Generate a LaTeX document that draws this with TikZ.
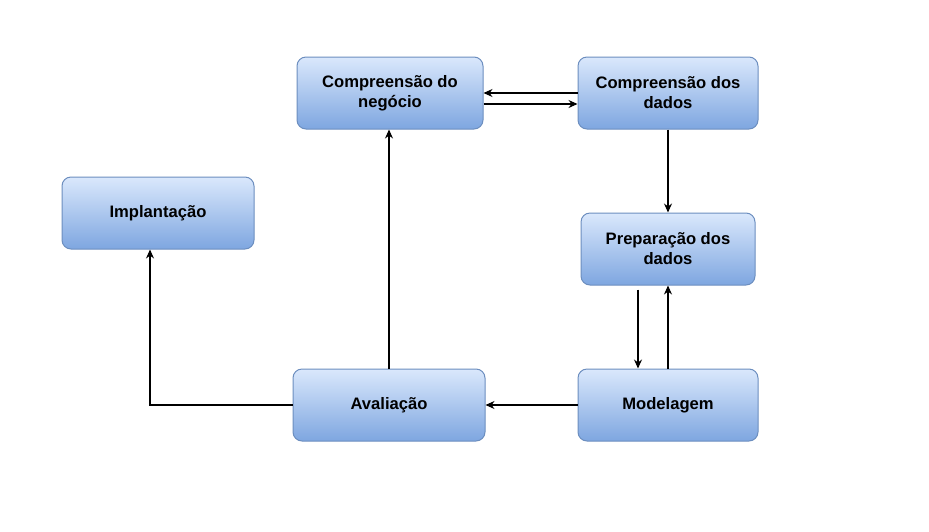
\documentclass[tikz,border=0pt]{standalone}
\usepackage{fontspec}
\setmainfont{Liberation Sans}
\usetikzlibrary{arrows.meta}
\definecolor{fillTop}{HTML}{DAE8FC}
\definecolor{fillBot}{HTML}{7EA6E0}
\definecolor{strokeC}{HTML}{6C8EBF}
\begin{document}
\begin{tikzpicture}[x=1pt,y=-1pt,
  box/.style={draw=strokeC, line width=1pt, rounded corners=9pt, top color=fillTop, bottom color=fillBot,
    minimum height=72pt, align=center, font=\fontsize{16.6}{20}\selectfont\bfseries, inner sep=2pt},
  arr/.style={-{Stealth[length=9pt,width=8pt]}, line width=1.1pt, black}]
\useasboundingbox (0,0) rectangle (929,531);
\node[box, minimum width=186pt] (neg) at (390,93) {Compreensão do\\negócio};
\node[box, minimum width=180pt] (dad) at (668,93) {Compreensão dos\\dados};
\node[box, minimum width=192pt] (imp) at (158,213) {Implantação};
\node[box, minimum width=174pt] (pre) at (668,249) {Preparação dos\\dados};
\node[box, minimum width=192pt] (ava) at (389,405) {Avaliação};
\node[box, minimum width=180pt] (mod) at (668,405) {Modelagem};
\coordinate (c1) at (150,405);
\draw[arr] (dad.west |- 0,93) -- (neg.east |- 0,93);
\draw[arr] (neg.east |- 0,104) -- (dad.west |- 0,104);
\draw[arr] (dad.south) -- (pre.north);
\draw[arr] (pre.south -| 638,0) ++(0,4) -- (mod.north -| 638,0);
\draw[arr] (mod.north) -- (pre.south);
\draw[arr] (mod.west |- c1) -- (ava.east |- c1);
\draw[arr] (ava.north) -- (neg.south -| ava.north);
\draw[arr] (ava.west |- c1) -- (c1) -- (imp.south -| c1);
\end{tikzpicture}
\end{document}
